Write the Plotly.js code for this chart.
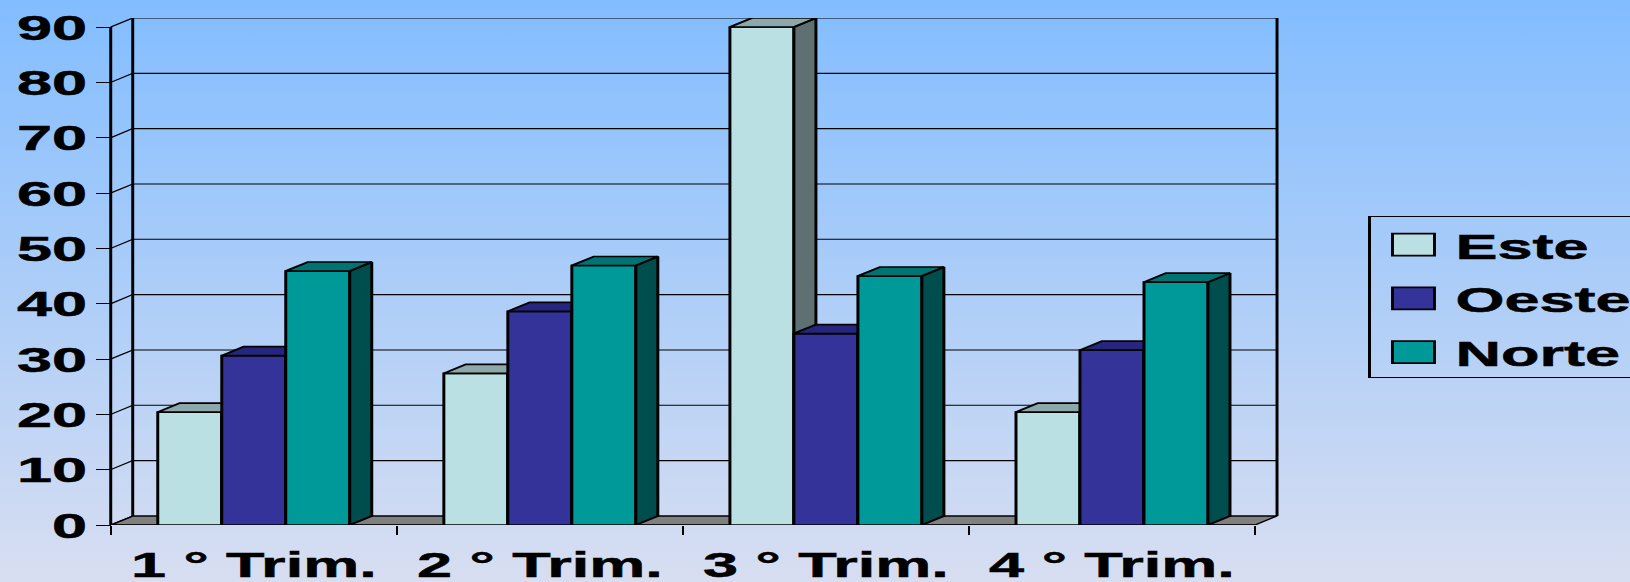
<!DOCTYPE html>
<html>
<head>
<meta charset="utf-8">
<script src="https://cdn.plot.ly/plotly-3.0.1.min.js"></script>
<style>
html,body{margin:0;padding:0;width:1630px;height:582px;overflow:hidden;
background:linear-gradient(180deg,#82BDFF 0%,#D8DEF1 100%);}
#chart{width:980px;height:582px;transform:scaleX(1.75);transform-origin:0 0;}
#chart text{stroke:#000;stroke-width:0.5px;}
</style>
</head>
<body>
<div id="chart"></div>
<script>
const categories = ['1 ° Trim.', '2 ° Trim.', '3 ° Trim.', '4 ° Trim.'];
const este = [20.4, 27.4, 90, 20.4];
const oeste = [30.6, 38.6, 34.6, 31.6];
const norte = [45.9, 46.9, 45, 43.9];
const yTicks = [0, 10, 20, 30, 40, 50, 60, 70, 80, 90];

const BAR = 0.2237, DX = 0.0769, DY = 1.63, PAD = 0.02;
const X0 = -0.5, XF = categories.length - 0.5, XB = XF + DX, YMAX = 90;
const FONT = {family: '"Liberation Sans", Arial, sans-serif', color: '#000', weight: 'bold'};
const LW = 1.7;

const styles = [
  {name: 'Este',  vals: este,  front: '#BBE0E3', top: '#8CA8AA', side: '#5E7072', ax: 2},
  {name: 'Oeste', vals: oeste, front: '#333399', top: '#26267F', side: '#1A1A4D', ax: 3},
  {name: 'Norte', vals: norte, front: '#009999', top: '#007373', side: '#004D4D', ax: 4}
];

function poly(list) {
  const x = [], y = [];
  list.forEach(p => { p.forEach(q => { x.push(q[0]); y.push(q[1]); }); x.push(p[0][0]); y.push(p[0][1]); x.push(null); y.push(null); });
  return {x, y};
}
function fillTrace(pts, color, xa, ya, width) {
  return {type: 'scatter', mode: 'lines', x: pts.x, y: pts.y, fill: 'toself', fillcolor: color,
    line: {color: '#000', width: width}, xaxis: xa, yaxis: ya, showlegend: false, hoverinfo: 'skip', cliponaxis: false};
}
function lineTrace(x, y, width) {
  return {type: 'scatter', mode: 'lines', x, y, line: {color: '#000', width}, xaxis: 'x', yaxis: 'y',
    showlegend: false, hoverinfo: 'skip', cliponaxis: false, connectgaps: false};
}

const traces = [];
// floor
traces.push(fillTrace(poly([[[X0, 0], [X0 + DX, DY], [XB, DY], [XF, 0]]]), '#808080', 'x', 'y', 1.2));
// back-wall grid
const gx = [], gy = [];
yTicks.forEach(t => { gx.push(X0, X0 + DX, XB, null); gy.push(t, t + DY, t + DY, null); });
traces.push(lineTrace(gx, gy, 1.1));
// walls and front axes
traces.push(lineTrace([X0 + DX, X0 + DX], [DY, YMAX + DY], LW));
traces.push(lineTrace([XB, XB], [DY, YMAX + DY], LW));
traces.push(lineTrace([X0, X0], [0, YMAX], LW));
traces.push(lineTrace([X0, XF], [0, 0], 1.4));

// series, each on its own overlaid axes so the nearer series covers the farther one
styles.forEach((s, si) => {
  const xa = 'x' + s.ax, ya = 'y' + s.ax;
  const xs = categories.map((c, i) => i + (si - 1) * BAR);
  traces.push({type: 'bar', name: s.name, x: xs, y: s.vals, width: BAR, xaxis: xa, yaxis: ya,
    marker: {color: s.front, line: {color: '#000', width: LW}}, cliponaxis: false,
    hovertext: categories, showlegend: true, legendgroup: s.name});
  const sides = [], tops = [];
  xs.forEach((c, i) => {
    const L = c - BAR / 2, R = c + BAR / 2, v = s.vals[i];
    sides.push([[R, 0], [R + DX, DY], [R + DX, v + DY], [R, v]]);
    tops.push([[L, v], [L + DX, v + DY], [R + DX, v + DY], [R, v]]);
  });
  traces.push(fillTrace(poly(sides), s.side, xa, ya, LW));
  traces.push(fillTrace(poly(tops), s.top, xa, ya, LW));
});

const xr = [X0 - PAD, XB + PAD], yr = [0, YMAX + DY];
const hiddenX = o => ({visible: false, type: 'linear', range: xr, overlaying: 'x', anchor: 'y' + o});
const hiddenY = o => ({visible: false, type: 'linear', range: yr, overlaying: 'y', anchor: 'x' + o});

const layout = {
  width: 980, height: 582,
  margin: {l: 59.9, r: 246.7, t: 17.5, b: 57, pad: 0},
  paper_bgcolor: 'rgba(0,0,0,0)', plot_bgcolor: 'rgba(0,0,0,0)',
  font: FONT, barmode: 'overlay',
  xaxis: {type: 'linear', range: xr, showgrid: false, zeroline: false, showline: false,
    tickmode: 'array', tickvals: categories.map((c, i) => i), ticktext: categories,
    ticks: '', tickfont: Object.assign({}, FONT, {size: 36}), ticklabelstandoff: 15,
    minor: {tickmode: 'array', tickvals: [-0.5, 0.5, 1.5, 2.5, 3.5], ticks: 'outside', ticklen: 9, tickwidth: 1.4, tickcolor: '#000', showgrid: false}},
  yaxis: {type: 'linear', range: yr, showgrid: false, zeroline: false, showline: false,
    anchor: 'free', position: PAD / (xr[1] - xr[0]),
    tickmode: 'array', tickvals: yTicks, ticks: 'outside', ticklen: 8.3, tickwidth: 1.2, tickcolor: '#000',
    tickfont: Object.assign({}, FONT, {size: 36}), ticklabelstandoff: -2},
  xaxis2: hiddenX(2), yaxis2: hiddenY(2),
  xaxis3: hiddenX(3), yaxis3: hiddenY(3),
  xaxis4: hiddenX(4), yaxis4: hiddenY(4),
  legend: {x: 1.0728, xanchor: 'left', y: 0.6154, yanchor: 'top', font: Object.assign({}, FONT, {size: 36}),
    bgcolor: 'rgba(0,0,0,0)', bordercolor: '#000', borderwidth: 1.7, itemwidth: 38, traceorder: 'grouped', tracegroupgap: 4},
  showlegend: true
};

function tuneLegend() {
  document.querySelectorAll('#chart .legendpoints path').forEach(el => {
    el.setAttribute('d', 'M12,11H-12V-11H12Z');
  });
  const bg = document.querySelector('#chart .legend rect.bg');
  if (bg) { bg.setAttribute('y', '3.5'); bg.setAttribute('height', '161'); }
}
const gd = document.getElementById('chart');
Plotly.newPlot(gd, traces, layout, {displayModeBar: false, responsive: false}).then(() => {
  tuneLegend();
  gd.on('plotly_afterplot', tuneLegend);
  setTimeout(tuneLegend, 0);
});
</script>
</body>
</html>
